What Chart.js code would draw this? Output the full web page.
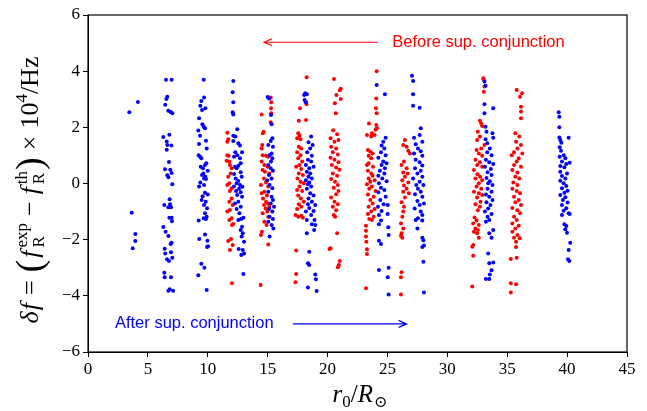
<!DOCTYPE html>
<html>
<head>
<meta charset="utf-8">
<script src="https://cdn.jsdelivr.net/npm/chart.js@4.4.0/dist/chart.umd.min.js"></script>
<style>
  html, body { margin: 0; padding: 0; background: #fff; }
  #wrap { width: 647px; height: 411px; }
</style>
</head>
<body>
<div id="wrap"><canvas id="dfChart" width="647" height="411"></canvas></div>
<script>
// [r0 / R_sun, delta f x 10^4 Hz]
const blueAfter = [
  [3.45, 2.54], [4.17, 2.9], [3.65, -1.04], [3.95, -1.8], [3.95, -2.05], [3.73, -2.31],
  [6.51, 3.69], [6.98, 3.69], [6.62, 3.09], [6.54, 3.01], [6.45, 2.8], [6.7, 2.59], [6.9, 2.55], [7.05, 2.5],
  [6.79, 1.74], [6.29, 1.66], [6.57, 1.5], [6.96, 1.35], [6.62, 1.37], [6.57, 1.2], [6.76, 0.77], [6.43, 0.51],
  [6.87, 0.49], [6.98, 0.37], [6.62, 0.29], [6.71, 0.22], [7.04, -0.03], [6.82, -0.56], [6.37, -0.77], [6.85, -0.74],
  [6.71, -0.85], [6.93, -0.85], [6.79, -1.22], [6.98, -1.22], [7.01, -1.34], [6.29, -1.55], [6.48, -1.72], [6.71, -1.87],
  [6.98, -2.11], [6.9, -2.15], [6.4, -2.32], [6.93, -2.45], [6.45, -2.49], [7.04, -2.64], [6.6, -2.7], [6.76, -2.76],
  [6.37, -3.18], [6.4, -3.34], [6.93, -3.34], [6.82, -3.77], [6.71, -3.82], [7.1, -3.82],
  [9.66, 3.69], [9.69, 3.06], [9.46, 2.94], [9.38, 2.77], [9.8, 2.68], [9.52, 2.62], [9.27, 2.32], [9.55, 2.11],
  [9.66, 2.02], [9.77, 1.97], [9.21, 1.89], [9.35, 1.7], [9.85, 1.52], [9.27, 1.41], [9.91, 1.25], [9.24, 1.01],
  [9.35, 0.95], [9.46, 0.9], [9.88, 0.72], [9.77, 0.66], [9.41, 0.6], [9.6, 0.54], [10.0, 0.45], [9.63, 0.36],
  [9.8, 0.24], [9.69, 0.18], [9.85, 0.16], [9.52, 0.3], [9.38, 0.04], [9.69, -0.05], [9.27, -0.11], [9.77, -0.33],
  [10.0, -0.39], [9.57, -0.45], [9.49, -0.59], [9.83, -0.65], [9.69, -0.77], [9.94, -0.88], [9.77, -1.06], [9.91, -1.18],
  [9.66, -1.24], [9.85, -1.26], [9.24, -1.32], [9.77, -1.82], [9.29, -1.98], [9.97, -2.04], [9.94, -2.26], [10.02, -2.23],
  [9.46, -2.86], [9.72, -3.0], [9.21, -3.27], [9.91, -3.79],
  [12.13, 3.65], [12.08, 3.25], [12.13, 2.89], [12.08, 2.54], [12.13, 2.46], [12.46, 1.93], [12.13, 1.7], [12.3, 1.67],
  [12.13, 1.51], [12.55, 1.43], [12.69, 1.35], [12.86, 1.11], [12.3, 1.11], [12.46, 1.01], [12.19, 0.95], [12.69, 0.9],
  [12.75, 0.72], [12.55, 0.63], [12.27, 0.6], [12.41, 0.54], [12.75, 0.4], [12.19, 0.34], [12.83, 0.24], [12.33, 0.18],
  [12.55, 0.09], [12.41, 0.01], [12.69, -0.05], [12.19, -0.11], [12.89, -0.12], [12.61, -0.19], [12.36, -0.27], [12.75, -0.31],
  [12.46, -0.41], [12.86, -0.47], [12.55, -0.65], [12.27, -0.71], [12.75, -0.83], [12.41, -0.91], [12.64, -1.06], [12.97, -1.22],
  [12.78, -1.26], [12.55, -1.3], [12.86, -1.54], [12.75, -1.66], [12.92, -1.77], [12.83, -1.89], [13.03, -2.07], [12.58, -2.33],
  [12.92, -2.37], [12.8, -2.55], [13.03, -2.49], [12.97, -3.22],
  [15.0, 3.08], [15.11, 3.03], [15.28, 2.44], [15.33, 2.11], [15.39, 1.61], [15.25, 1.51], [15.05, 1.37], [15.44, 1.31],
  [15.33, 1.07], [15.16, 1.01], [15.39, 0.9], [15.28, 0.78], [15.05, 0.66], [15.25, 0.54], [15.44, 0.45], [15.11, 0.3],
  [15.33, 0.18], [14.97, 0.12], [15.16, -0.05], [15.39, -0.17], [15.05, -0.29], [15.33, -0.47], [15.44, -0.59], [15.25, -0.71],
  [15.53, -0.83], [15.11, -0.91], [15.39, -1.0], [15.16, -1.18], [15.44, -1.26], [15.05, -1.36], [15.33, -1.48], [15.47, -1.6],
  [15.16, -1.89],
  [18.13, 3.21], [18.05, 3.15], [18.27, 3.18], [18.08, 2.97], [18.19, 2.89], [18.63, 1.67], [18.41, 1.47], [18.75, 1.37],
  [18.55, 1.25], [18.3, 1.11], [18.69, 0.99], [18.36, 0.85], [18.63, 0.78], [18.19, 0.66], [18.47, 0.54], [18.83, 0.6],
  [18.27, 0.42], [18.55, 0.36], [18.41, 0.24], [18.69, 0.18], [18.19, 0.12], [18.47, 0.04], [18.36, -0.03], [18.63, -0.11],
  [18.27, -0.19], [18.55, -0.35], [18.83, -0.43], [18.41, -0.53], [18.69, -0.65], [18.36, -0.74], [18.97, -0.77], [18.47, -0.87],
  [18.83, -0.98], [18.19, -1.0], [18.63, -1.12], [18.91, -1.3], [18.27, -1.3], [18.69, -1.45], [18.97, -1.48], [18.88, -1.66],
  [18.27, -1.77], [18.47, -2.43], [18.36, -2.84], [18.47, -2.9], [18.97, -3.24], [19.03, -3.41], [18.36, -3.7], [19.09, -3.83],
  [24.1, 3.51], [24.79, 3.18], [24.85, 1.63], [24.65, 1.49], [24.51, 1.35], [24.74, 1.25], [24.46, 1.11], [24.85, 1.01],
  [24.24, 0.92], [24.65, 0.78], [24.93, 0.72], [24.51, 0.66], [24.79, 0.54], [24.37, 0.45], [24.74, 0.36], [24.24, 0.28],
  [24.57, 0.18], [24.93, 0.08], [24.29, 0.01], [24.46, -0.15], [24.74, -0.23], [24.24, -0.31], [24.85, -0.47], [24.4, -0.59],
  [24.68, -0.74], [24.21, -0.83], [25.02, -0.77], [24.51, -0.98], [24.29, -1.12], [25.02, -1.09], [24.46, -1.32], [24.29, -1.45],
  [25.07, -1.56], [25.1, -1.83], [24.29, -2.04], [24.46, -2.15], [24.29, -3.08], [25.1, -3.0], [25.02, -3.34], [25.1, -3.95],
  [27.05, 3.84], [27.14, 3.65], [27.14, 3.18], [27.14, 2.77], [27.69, 2.7], [27.78, 1.97], [27.69, 1.73], [27.22, 1.63],
  [27.91, 1.49], [27.36, 1.4], [27.55, 1.25], [27.78, 1.15], [27.22, 1.07], [27.91, 0.99], [27.36, 0.85], [27.69, 0.76],
  [27.91, 0.64], [27.3, 0.54], [27.78, 0.45], [27.5, 0.36], [27.91, 0.24], [27.14, 0.18], [27.69, 0.06], [27.41, -0.05],
  [28.0, -0.05], [27.55, -0.19], [27.78, -0.29], [27.3, -0.38], [27.91, -0.47], [27.5, -0.62], [28.05, -0.71], [27.69, -0.77],
  [27.27, -0.89], [27.78, -1.0], [27.91, -1.12], [27.55, -1.24], [27.36, -1.3], [27.91, -1.32], [27.5, -1.6], [27.91, -1.93],
  [28.0, -2.02], [27.91, -2.26], [28.05, -2.21], [28.0, -2.79], [28.05, -3.88],
  [33.1, 3.63], [33.19, 3.48], [33.1, 2.82], [33.1, 2.5], [33.83, 2.68], [33.19, 2.02], [33.27, 1.84], [33.77, 1.79],
  [33.83, 1.63], [33.19, 1.58], [33.33, 1.43], [33.55, 1.25], [33.33, 1.11], [33.69, 1.01], [33.22, 0.85], [33.5, 0.76],
  [33.83, 0.69], [33.14, 0.6], [33.63, 0.52], [33.36, 0.4], [33.69, 0.3], [33.27, 0.2], [33.55, 0.08], [33.41, 0.01],
  [33.77, -0.05], [33.36, -0.19], [33.69, -0.29], [33.22, -0.39], [33.5, -0.47], [33.77, -0.59], [33.27, -0.67], [33.6, -0.77],
  [33.41, -0.89], [33.14, -1.0], [33.69, -1.09], [33.36, -1.18], [33.5, -1.3], [33.22, -1.36], [33.83, -1.66], [33.5, -1.77],
  [33.69, -1.93], [33.41, -2.49], [33.5, -2.84], [33.83, -2.81], [33.69, -3.09], [33.55, -3.24], [33.22, -3.4], [33.5, -3.4],
  [39.3, 2.54], [39.35, 2.38], [39.35, 2.0], [39.35, 1.64], [39.43, 1.55], [40.13, 1.63], [39.52, 1.45], [39.38, 1.29],
  [39.49, 1.17], [39.71, 1.01], [39.38, 0.95], [39.85, 0.9], [39.57, 0.78], [40.21, 0.74], [39.93, 0.69], [39.43, 0.62],
  [39.77, 0.58], [39.43, 0.42], [39.99, 0.36], [39.57, 0.27], [39.85, 0.18], [39.43, 0.1], [39.71, 0.01], [39.93, -0.09],
  [39.57, -0.17], [40.04, -0.26], [39.77, -0.33], [39.43, -0.41], [39.85, -0.49], [39.65, -0.59], [40.04, -0.68], [39.57, -0.77],
  [39.93, -0.88], [39.71, -0.97], [40.13, -1.06], [39.57, -1.12], [40.21, -1.09], [39.77, -1.45], [39.93, -1.51], [39.85, -1.63],
  [39.99, -1.75], [40.26, -2.11], [40.13, -2.37], [40.07, -2.7], [40.18, -2.76]
];

const redBefore = [
  [11.63, 1.81], [11.71, 1.58], [11.63, 1.49], [11.63, 1.01], [11.74, 0.99], [11.8, 0.78], [11.57, 0.81], [11.85, 0.66],
  [11.99, 0.54], [11.91, 0.36], [11.71, 0.24], [11.8, 0.01], [11.63, -0.05], [11.99, -0.17], [11.85, -0.27], [11.99, -0.53],
  [11.8, -0.65], [12.08, -0.77], [11.85, -0.94], [11.63, -1.0], [11.99, -1.24], [11.8, -1.3], [12.13, -1.44], [12.02, -1.48],
  [11.71, -2.05], [11.94, -1.98], [12.08, -2.19], [11.85, -2.37], [12.02, -3.55],
  [15.25, 3.06], [15.3, 2.89], [15.28, 2.68], [15.3, 2.5], [14.5, 2.46], [15.25, 2.18], [14.66, 1.84], [14.6, 1.79],
  [14.55, 1.37], [14.5, 1.25], [14.58, 1.01], [14.86, 0.99], [15.05, 0.95], [14.5, 0.78], [14.72, 0.66], [15.0, 0.6],
  [14.58, 0.48], [14.77, 0.42], [15.14, 0.36], [14.69, 0.18], [14.86, 0.04], [14.44, -0.05], [15.05, -0.11], [14.72, -0.29],
  [14.5, -0.35], [14.94, -0.43], [14.61, -0.53], [14.86, -0.65], [15.0, -0.71], [14.69, -0.77], [15.14, -0.83], [14.83, -0.89],
  [14.97, -1.0], [14.58, -1.06], [15.05, -1.18], [14.72, -1.36], [14.91, -1.48], [14.52, -1.72], [14.44, -1.83], [15.05, -2.17],
  [14.41, -3.61],
  [18.25, 3.78], [18.2, 2.89], [18.25, 2.82], [17.7, 2.68], [18.2, 2.26], [17.6, 2.23], [17.55, 1.79], [17.66, 1.7],
  [17.46, 1.61], [17.74, 1.58], [17.6, 1.31], [17.8, 1.25], [17.46, 1.11], [17.74, 1.01], [17.55, 0.9], [17.88, 0.78],
  [17.66, 0.66], [17.38, 0.6], [17.8, 0.52], [17.6, 0.36], [17.94, 0.3], [17.49, 0.18], [17.74, 0.06], [18.02, 0.01],
  [17.66, -0.11], [17.46, -0.23], [17.88, -0.27], [17.55, -0.43], [17.77, -0.53], [18.02, -0.65], [17.6, -0.74], [17.8, -0.83],
  [17.46, -0.91], [17.32, -1.12], [17.55, -1.18], [17.8, -1.15], [17.94, -1.22], [17.38, -2.39], [17.38, -3.22], [17.32, -3.52],
  [20.54, 3.72], [21.1, 3.37], [21.02, 3.32], [20.74, 3.15], [20.61, 2.86], [20.69, 2.5], [21.1, 3.01], [20.47, 1.9],
  [20.8, 1.75], [20.25, 1.61], [20.58, 1.49], [20.91, 1.55], [20.3, 1.31], [20.72, 1.25], [20.44, 1.11], [20.86, 1.03],
  [20.25, 0.92], [20.58, 0.85], [20.91, 0.76], [20.36, 0.66], [20.72, 0.57], [20.99, 0.49], [20.44, 0.36], [20.8, 0.28],
  [20.3, 0.16], [20.63, 0.06], [20.86, -0.05], [20.52, -0.15], [20.91, -0.27], [20.72, -0.38], [20.3, -0.5], [20.58, -0.65],
  [20.86, -0.74], [20.44, -0.83], [20.72, -0.95], [20.52, -1.12], [20.63, -1.18], [20.8, -1.77], [20.25, -2.31], [20.16, -2.33],
  [21.02, -2.76], [20.94, -2.9], [20.86, -2.98],
  [24.1, 4.0], [24.07, 3.03], [24.04, 2.68], [24.1, 2.5], [23.46, 2.14], [24.07, 2.08], [24.12, 1.97], [24.01, 1.91],
  [23.29, 1.73], [23.7, 1.79], [23.65, 1.67], [23.93, 1.73], [23.37, 1.19], [23.57, 1.13], [23.76, 1.07], [23.43, 0.99],
  [23.65, 0.9], [23.43, 0.72], [23.29, 0.66], [23.79, 0.6], [23.37, 0.45], [23.65, 0.36], [23.76, 0.28], [23.43, 0.18],
  [23.93, 0.12], [23.57, 0.06], [23.29, -0.03], [23.7, -0.11], [23.48, -0.19], [24.01, -0.27], [23.37, -0.39], [23.85, -0.47],
  [23.57, -0.59], [23.76, -0.71], [23.43, -0.83], [23.93, -0.91], [23.65, -1.0], [23.37, -1.09], [23.85, -1.18], [23.48, -1.26],
  [23.7, -1.3], [23.21, -1.5], [23.21, -1.68], [23.21, -1.89], [23.24, -2.07], [23.29, -2.34], [23.29, -2.51], [23.21, -3.73],
  [26.46, 1.55], [26.32, 1.37], [26.6, 1.31], [26.74, 1.17], [26.88, 1.07], [26.38, 0.78], [26.18, 0.66], [26.6, 0.54],
  [26.32, 0.39], [26.69, 0.36], [26.46, 0.24], [26.24, 0.12], [26.74, 0.04], [26.38, -0.07], [26.6, -0.19], [26.32, -0.29],
  [26.79, -0.35], [26.46, -0.5], [26.18, -0.67], [26.38, -0.83], [26.32, -1.0], [26.24, -1.18], [26.13, -1.42], [26.32, -1.6],
  [26.18, -1.77], [26.24, -1.93], [26.13, -1.86], [26.18, -3.16], [26.13, -3.34], [26.13, -3.95],
  [33.0, 3.75], [33.05, 3.69], [33.1, 3.45], [33.05, 3.27], [32.72, 2.23], [32.83, 2.14], [32.91, 2.05], [32.55, 1.84],
  [32.72, 1.67], [32.49, 1.55], [33.1, 1.37], [32.83, 1.25], [32.44, 1.19], [32.63, 1.07], [32.91, 0.99], [32.35, 0.85],
  [32.72, 0.76], [32.49, 0.66], [32.91, 0.6], [32.22, 0.48], [32.52, 0.33], [32.74, 0.24], [32.35, 0.18], [32.91, 0.12],
  [32.63, 0.01], [32.44, -0.11], [32.83, -0.19], [32.22, -0.29], [32.63, -0.35], [32.91, -0.41], [32.49, -0.5], [32.77, -0.65],
  [32.35, -0.74], [32.72, -0.83], [32.55, -0.95], [32.27, -1.21], [32.44, -1.32], [32.16, -1.42], [32.63, -1.48], [32.35, -1.6],
  [32.55, -1.66], [32.22, -1.72], [32.49, -1.77], [32.63, -1.93], [32.16, -2.19], [32.08, -2.25], [32.16, -2.57], [32.08, -3.67],
  [35.79, 3.33], [36.07, 3.09], [36.24, 3.21], [36.15, 2.73], [36.15, 2.56], [36.15, 2.32], [35.68, 1.79], [36.01, 1.67],
  [35.74, 1.49], [36.15, 1.37], [35.85, 1.25], [35.57, 1.11], [36.26, 1.07], [35.38, 1.01], [35.96, 0.9], [35.79, 0.78],
  [35.57, 0.66], [36.15, 0.6], [35.43, 0.48], [35.85, 0.39], [35.68, 0.24], [36.01, 0.18], [35.51, 0.04], [35.85, -0.05],
  [35.43, -0.19], [35.79, -0.27], [36.07, -0.35], [35.57, -0.47], [35.96, -0.59], [35.68, -0.67], [36.15, -0.77], [35.43, -0.87],
  [35.85, -0.95], [36.07, -1.06], [35.57, -1.18], [35.79, -1.3], [35.43, -1.42], [35.96, -1.5], [35.68, -1.6], [35.43, -1.72],
  [35.85, -1.83], [35.57, -1.93], [36.04, -1.95], [35.74, -2.07], [35.74, -2.26], [35.3, -2.69], [35.79, -2.64], [35.3, -3.55],
  [35.74, -3.59], [35.3, -3.88]
];

const xTicks = [0, 5, 10, 15, 20, 25, 30, 35, 40, 45];
const yTicks = [-6, -4, -2, 0, 2, 4, 6];

// arrow notes: [text, text x, arrow tail x, arrow head x, y] in data units
const beforeNote = ["Before sup. conjunction", 25.4, 24.2, 14.7, 5.03];
const afterNote = ["After sup. conjunction", 2.25, 17.1, 26.6, -5.0];

const serif = "'Liberation Serif', 'DejaVu Serif', serif";
const sans = "'Liberation Sans', 'DejaVu Sans', sans-serif";

const toPoints = (pairs) => pairs.map((p) => ({ x: p[0], y: p[1] }));

// runs: {t, f, dy}, {gap} or {sub: {...}, sup: {...}} stacked scripts
function runWidth(ctx, r) {
  if (r.gap) return r.gap;
  if (r.sub) {
    ctx.font = r.sub.f;
    const a = ctx.measureText(r.sub.t).width;
    ctx.font = r.sup.f;
    const b = ctx.measureText(r.sup.t).width;
    return Math.max(a, b);
  }
  ctx.font = r.f;
  return ctx.measureText(r.t).width;
}

function drawRuns(ctx, runs, cx, cy) {
  let total = 0;
  runs.forEach((r) => (total += runWidth(ctx, r)));
  let x = cx - total / 2;
  ctx.textAlign = "left";
  ctx.textBaseline = "alphabetic";
  runs.forEach((r) => {
    const w = runWidth(ctx, r);
    if (r.sub) {
      ctx.font = r.sub.f;
      ctx.fillText(r.sub.t, x, cy + r.sub.dy);
      ctx.font = r.sup.f;
      ctx.fillText(r.sup.t, x, cy + r.sup.dy);
    } else if (r.t) {
      ctx.font = r.f;
      ctx.fillText(r.t, x, cy + (r.dy || 0));
    }
    x += w;
  });
}

function drawArrow(ctx, x1, x2, y, color) {
  const dir = x2 > x1 ? 1 : -1;
  ctx.strokeStyle = color;
  ctx.lineWidth = 1.2;
  ctx.beginPath();
  ctx.moveTo(x1, y);
  ctx.lineTo(x2, y);
  ctx.moveTo(x2 - dir * 8, y - 3.5);
  ctx.lineTo(x2, y);
  ctx.lineTo(x2 - dir * 8, y + 3.5);
  ctx.stroke();
}

const frameAndNotes = {
  id: "frameAndNotes",
  afterDraw(chart) {
    const ctx = chart.ctx;
    const a = chart.chartArea;
    const xs = chart.scales.x;
    const ys = chart.scales.y;
    ctx.save();
    ctx.strokeStyle = "#000";
    ctx.lineWidth = 1.2;
    ctx.strokeRect(a.left, a.top, a.right - a.left, a.bottom - a.top);

    [[beforeNote, "#ff0000"], [afterNote, "#0000ff"]].forEach(([n, color]) => {
      const y = ys.getPixelForValue(n[4]);
      drawArrow(ctx, xs.getPixelForValue(n[2]), xs.getPixelForValue(n[3]), y, color);
      ctx.fillStyle = color;
      ctx.font = "16.5px " + sans;
      ctx.textAlign = "left";
      ctx.textBaseline = "middle";
      ctx.fillText(n[0], xs.getPixelForValue(n[1]), y);
    });

    ctx.fillStyle = "#000";
    const it = (s) => "italic " + s + "px " + serif;
    const rm = (s) => s + "px " + serif;
    drawRuns(ctx, [
      { t: "r", f: it(25) },
      { t: "0", f: rm(17), dy: 5 },
      { t: "/", f: rm(25) },
      { t: "R", f: it(25) },
      { gap: 1 },
      { t: "\u2299", f: rm(16), dy: 5 }
    ], 360, 402);

    ctx.translate(30, 190);
    ctx.rotate(-Math.PI / 2);
    drawRuns(ctx, [
      { t: "\u03b4", f: it(26) },
      { gap: 1 },
      { t: "f", f: it(26) },
      { gap: 8 },
      { t: "=", f: rm(26) },
      { gap: 8 },
      { t: "(", f: rm(38), dy: 4 },
      { gap: 2 },
      { t: "f", f: it(26) },
      { gap: 3 },
      { sub: { t: "R", f: rm(17), dy: 6 }, sup: { t: "exp", f: rm(17), dy: -11 } },
      { gap: 7 },
      { t: "\u2212", f: rm(26) },
      { gap: 7 },
      { t: "f", f: it(26) },
      { gap: 3 },
      { sub: { t: "R", f: rm(17), dy: 6 }, sup: { t: "th", f: rm(17), dy: -11 } },
      { gap: 1 },
      { t: ")", f: rm(38), dy: 4 },
      { gap: 7 },
      { t: "\u00d7", f: rm(26) },
      { gap: 7 },
      { t: "10", f: rm(26) },
      { t: "4", f: rm(17), dy: -11 },
      { t: "/Hz", f: rm(26) }
    ], 0, 8);
    ctx.restore();
  }
};

const tickFont = { family: serif, size: 17 };

new Chart(document.getElementById("dfChart"), {
  type: "scatter",
  data: {
    datasets: [
      {
        label: "After sup. conjunction",
        data: toPoints(blueAfter),
        backgroundColor: "#0000ff",
        pointRadius: 2,
        pointBorderWidth: 0
      },
      {
        label: "Before sup. conjunction",
        data: toPoints(redBefore),
        backgroundColor: "#ff0000",
        pointRadius: 2,
        pointBorderWidth: 0
      }
    ]
  },
  options: {
    responsive: false,
    animation: false,
    devicePixelRatio: 1,
    layout: { padding: { top: 15, right: 20, left: 0, bottom: 0 } },
    plugins: { legend: { display: false }, tooltip: { enabled: false } },
    scales: {
      x: {
        type: "linear",
        min: xTicks[0],
        max: xTicks[xTicks.length - 1],
        afterBuildTicks: (s) => { s.ticks = xTicks.map((v) => ({ value: v })); },
        ticks: { color: "#000", font: tickFont, padding: 2, maxRotation: 0 },
        grid: { drawOnChartArea: false, tickLength: 5, color: "#000" },
        border: { color: "#000" },
        afterFit: (s) => { s.height = 59; }
      },
      y: {
        min: yTicks[0],
        max: yTicks[yTicks.length - 1],
        afterBuildTicks: (s) => { s.ticks = yTicks.map((v) => ({ value: v })); },
        ticks: {
          color: "#000",
          font: tickFont,
          padding: 3,
          callback: (v) => String(v).replace("-", "\u2212")
        },
        grid: { drawOnChartArea: false, tickLength: 5, color: "#000" },
        border: { color: "#000" },
        afterFit: (s) => { s.width = 88; }
      }
    }
  },
  plugins: [frameAndNotes]
});
</script>
</body>
</html>
